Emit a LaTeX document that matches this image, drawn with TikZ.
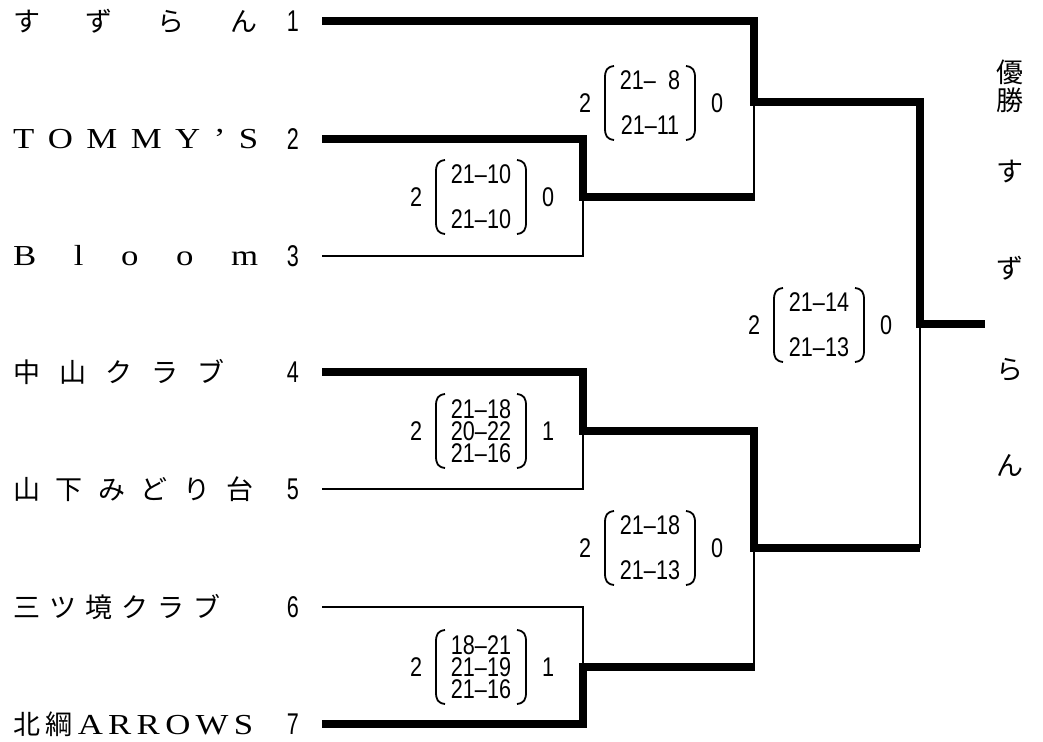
\documentclass[tikz,border=0pt]{standalone}
\usepackage{fontspec}
\newfontfamily\jp{Noto Sans CJK JP}
\newfontfamily\wl[FakeStretch=1.2]{Liberation Serif}
\newfontfamily\scf[FakeStretch=0.8]{Liberation Sans}
\newfontfamily\nmf[FakeStretch=0.72]{Liberation Sans}
\tikzset{
  win/.style={line width=8pt, line join=miter},
  lose/.style={line width=2.5pt},
  paren/.style={line width=1.8pt},
  sc/.style={inner sep=0pt, font=\scf\fontsize{27}{22}\selectfont, align=center},
  num/.style={inner sep=0pt, font=\nmf\fontsize{30}{30}\selectfont},
  teamname/.style={inner sep=0pt, anchor=west, font=\jp\fontsize{27}{27}\selectfont},
  champ/.style={inner sep=0pt, font=\jp\fontsize{27}{27}\selectfont},
}
\newcommand\scorelab[6]{%
  \node[sc] (#1) at (#2,#3) {#5};
  \node[sc] (#1l) at (#2-65,#3) {#4};
  \node[sc] (#1r) at (#2+67,#3) {#6};
  \draw[paren] (#1.center) ++(-36,-37) .. controls +(-7,1) and +(0,-8) .. ++(-9,12) -- ++(0,50) .. controls +(0,8) and +(-7,-1) .. ++(9,12);
  \draw[paren] (#1.center) ++(36,-37) .. controls +(7,1) and +(0,-8) .. ++(9,12) -- ++(0,50) .. controls +(0,8) and +(7,-1) .. ++(-9,12);
}
\newcommand\wlt{\wl\fontsize{29}{29}\selectfont}
\begin{document}
\begin{tikzpicture}[x=1pt,y=-1pt]
\fill[white] (0,0) rectangle (1043,741);
\useasboundingbox (0,0) rectangle (1043,741);

% team names
\node[teamname] (n1) at (13,21)  {\makebox[244pt][s]{す\hfill ず\hfill ら\hfill ん}};
\node[teamname] (n2) at (13,139) {\makebox[245pt][s]{\wlt T\hfill O\hfill M\hfill M\hfill Y\hfill ’\hfill S}};
\node[teamname] (n3) at (13,256) {\makebox[245pt][s]{\wlt B\hfill l\hfill o\hfill o\hfill m}};
\node[teamname] (n4) at (13,372) {\makebox[211pt][s]{中\hfill 山\hfill ク\hfill ラ\hfill ブ}};
\node[teamname] (n5) at (13,489) {\makebox[240pt][s]{山\hfill 下\hfill み\hfill ど\hfill り\hfill 台}};
\node[teamname] (n6) at (13,607) {\makebox[207pt][s]{三\hfill ツ\hfill 境\hfill ク\hfill ラ\hfill ブ}};
\node[teamname] (n7) at (13,724) {\makebox[240pt][s]{北\hfill 綱\hfill{\wlt A}\hfill{\wlt R}\hfill{\wlt R}\hfill{\wlt O}\hfill{\wlt W}\hfill{\wlt S}}};

% seeds
\node[num] (d1) at (293,21)  {1};
\node[num] (d2) at (293,139) {2};
\node[num] (d3) at (293,256) {3};
\node[num] (d4) at (293,372) {4};
\node[num] (d5) at (293,489) {5};
\node[num] (d6) at (293,607) {6};
\node[num] (d7) at (293,724) {7};

% line starts and junctions
\coordinate (s1) at (322,21);
\coordinate (s2) at (322,139);
\coordinate (s3) at (322,256);
\coordinate (s4) at (322,372);
\coordinate (s5) at (322,489);
\coordinate (s6) at (322,607);
\coordinate (s7) at (322,724);
\coordinate (m23) at (583,197);
\coordinate (m45) at (583,431);
\coordinate (m67) at (583,667);
\coordinate (q23) at (754,197);
\coordinate (q67) at (754,667);
\coordinate (sA) at (754,102);
\coordinate (sB) at (754,548);
\coordinate (fA) at (920,102);
\coordinate (fB) at (920,548);
\coordinate (fC) at (920,324);
\coordinate (champ) at (985,324);

% losing lines (thin)
\draw[lose] (s3) -| (m23);
\draw[lose] (s5) -| (m45);
\draw[lose] (s6) -| (m67);
\draw[lose] (q23) -- (sA);
\draw[lose] (q67) -- (sB);
\draw[lose] (fB) -- (fC);

% winning lines (thick)
\draw[win] (s1) -| (sA) -- (fA) -- (fC) -- (champ);
\draw[win] (s2) -| (m23) -- ([xshift=1pt]q23);
\draw[win] (s4) -| (m45) -| (sB) -- (fB);
\draw[win] (s7) -| (m67) -- ([xshift=1pt]q67);

% scores
\scorelab{r23}{481}{197}{2}{21–10\\[23pt]21–10}{0}
\scorelab{r1}{650}{103}{2}{21–\phantom{0}8\\[23pt]21–11}{0}
\scorelab{r45}{481}{431}{2}{21–18\\20–22\\21–16}{1}
\scorelab{r67}{481}{667}{2}{18–21\\21–19\\21–16}{1}
\scorelab{r4567}{650}{548}{2}{21–18\\[23pt]21–13}{0}
\scorelab{fin}{819}{325}{2}{21–14\\[23pt]21–13}{0}

% champion
\node[champ] (c0) at (1010,72)  {優};
\node[champ] (c1) at (1010,100) {勝};
\node[champ] (c2) at (1010,172) {す};
\node[champ] (c3) at (1010,268) {ず};
\node[champ] (c4) at (1010,370) {ら};
\node[champ] (c5) at (1010,466) {ん};
\end{tikzpicture}
\end{document}
